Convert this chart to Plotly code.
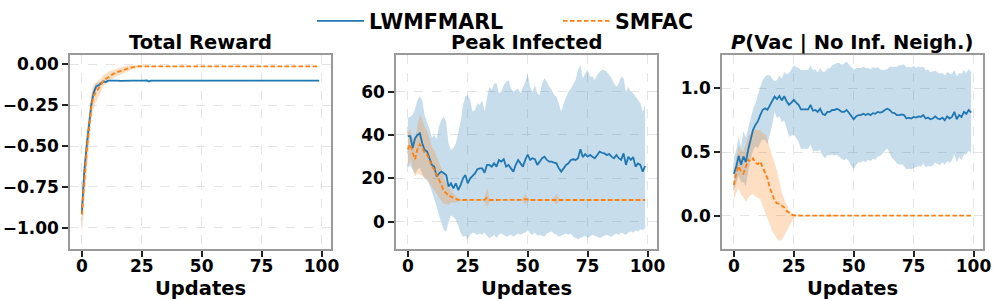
import plotly.graph_objects as go

updates = list(range(100))
series_names = ["LWMFMARL", "SMFAC"]
panel_titles = ["Total Reward", "Peak Infected", "<i>P</i>(Vac | No Inf. Neigh.)"]
x_label = "Updates"
x_ticks = [0, 25, 50, 75, 100]

# ---------------- Panel 1: Total Reward ----------------
reward_lw = [
    -0.910, -0.660, -0.500, -0.380, -0.240, -0.170, -0.135, -0.128, -0.115, -0.105,
    -0.108, -0.100, -0.100, -0.099, -0.100, -0.100, -0.101, -0.100, -0.100, -0.099,
    -0.100, -0.100, -0.100, -0.101, -0.100, -0.100, -0.100, -0.099, -0.104, -0.100,
    -0.100, -0.100, -0.101, -0.100, -0.100, -0.099, -0.100, -0.100, -0.100, -0.101,
    -0.100, -0.100, -0.099, -0.100, -0.100, -0.100, -0.101, -0.100, -0.100, -0.100,
    -0.100, -0.099, -0.100, -0.100, -0.101, -0.100, -0.100, -0.100, -0.099, -0.100,
    -0.100, -0.100, -0.101, -0.100, -0.100, -0.100, -0.099, -0.100, -0.100, -0.100,
    -0.101, -0.100, -0.100, -0.099, -0.100, -0.100, -0.100, -0.101, -0.100, -0.100,
    -0.100, -0.099, -0.100, -0.100, -0.100, -0.101, -0.100, -0.099, -0.100, -0.100,
    -0.100, -0.100, -0.101, -0.100, -0.100, -0.099, -0.100, -0.100, -0.100, -0.100,
]
reward_lw_sd = [
    0.060, 0.050, 0.050, 0.040, 0.040, 0.030, 0.020, 0.015, 0.010, 0.008,
    0.008, 0.005, 0.004, 0.003, 0.003, 0.003, 0.003, 0.003, 0.003, 0.003,
    0.003, 0.003, 0.003, 0.003, 0.003, 0.003, 0.004, 0.006, 0.012, 0.005,
    0.003, 0.003, 0.003, 0.003, 0.003, 0.003, 0.003, 0.003, 0.003, 0.003,
    0.003, 0.003, 0.003, 0.003, 0.003, 0.003, 0.003, 0.003, 0.003, 0.003,
    0.003, 0.003, 0.003, 0.003, 0.003, 0.003, 0.003, 0.003, 0.003, 0.003,
    0.003, 0.003, 0.003, 0.003, 0.003, 0.003, 0.003, 0.003, 0.003, 0.003,
    0.003, 0.003, 0.003, 0.003, 0.003, 0.003, 0.003, 0.003, 0.003, 0.003,
    0.003, 0.003, 0.003, 0.003, 0.003, 0.003, 0.003, 0.003, 0.003, 0.003,
    0.003, 0.003, 0.003, 0.003, 0.003, 0.003, 0.003, 0.003, 0.003, 0.003,
]
reward_sm = [
    -0.920, -0.700, -0.530, -0.400, -0.250, -0.190, -0.170, -0.150, -0.125, -0.100,
    -0.090, -0.075, -0.068, -0.060, -0.052, -0.046, -0.041, -0.035, -0.030, -0.026,
    -0.022, -0.018, -0.015, -0.013, -0.012, -0.012, -0.011, -0.012, -0.012, -0.011,
    -0.012, -0.012, -0.011, -0.012, -0.012, -0.012, -0.011, -0.012, -0.012, -0.012,
    -0.011, -0.012, -0.012, -0.012, -0.011, -0.012, -0.012, -0.012, -0.011, -0.012,
    -0.012, -0.012, -0.011, -0.012, -0.012, -0.012, -0.011, -0.012, -0.012, -0.012,
    -0.011, -0.012, -0.012, -0.012, -0.011, -0.012, -0.012, -0.012, -0.011, -0.012,
    -0.012, -0.012, -0.011, -0.012, -0.012, -0.012, -0.011, -0.012, -0.012, -0.012,
    -0.011, -0.012, -0.012, -0.012, -0.011, -0.012, -0.012, -0.012, -0.011, -0.012,
    -0.012, -0.012, -0.011, -0.012, -0.012, -0.012, -0.011, -0.012, -0.012, -0.012,
]
reward_sm_sd = [
    0.140, 0.140, 0.130, 0.100, 0.080, 0.070, 0.060, 0.050, 0.040, 0.035,
    0.030, 0.030, 0.028, 0.027, 0.025, 0.025, 0.024, 0.022, 0.020, 0.018,
    0.016, 0.013, 0.010, 0.008, 0.006, 0.004, 0.002, 0.002, 0.002, 0.002,
    0.002, 0.002, 0.002, 0.002, 0.002, 0.002, 0.002, 0.002, 0.002, 0.002,
    0.002, 0.002, 0.002, 0.002, 0.002, 0.002, 0.002, 0.002, 0.002, 0.002,
    0.002, 0.002, 0.002, 0.002, 0.002, 0.002, 0.002, 0.002, 0.002, 0.002,
    0.002, 0.002, 0.002, 0.002, 0.002, 0.002, 0.002, 0.002, 0.002, 0.002,
    0.002, 0.002, 0.002, 0.002, 0.002, 0.002, 0.002, 0.002, 0.002, 0.002,
    0.002, 0.002, 0.002, 0.002, 0.002, 0.002, 0.002, 0.002, 0.002, 0.002,
    0.002, 0.002, 0.002, 0.002, 0.002, 0.002, 0.002, 0.002, 0.002, 0.002,
]

# ---------------- Panel 2: Peak Infected ----------------
peak_lw = [
    39.5, 39.5, 34.0, 38.5, 40.0, 40.8, 36.2, 33.1, 32.4, 29.3,
    26.2, 25.4, 20.8, 22.3, 23.1, 22.3, 21.5, 16.2, 17.7, 15.4,
    17.7, 14.6, 16.9, 20.0, 21.5, 17.7, 20.0, 21.1, 22.3, 24.2,
    24.6, 24.6, 22.6, 26.2, 26.2, 25.4, 26.9, 25.4, 28.5, 27.7,
    28.8, 25.4, 26.2, 24.6, 23.1, 26.2, 28.5, 26.9, 25.4, 28.5,
    31.0, 28.5, 29.3, 28.8, 26.2, 27.7, 29.3, 30.0, 28.5, 27.7,
    27.7, 27.2, 26.9, 24.6, 23.1, 24.6, 26.2, 26.9, 28.5, 28.8,
    28.5, 29.3, 33.4, 29.8, 31.2, 30.0, 30.8, 30.0, 29.3, 30.8,
    32.3, 31.8, 31.5, 30.8, 31.2, 30.0, 29.3, 30.8, 29.3, 28.5,
    31.5, 26.2, 30.0, 28.5, 29.8, 25.4, 26.9, 26.2, 23.1, 25.7,
]
peak_lw_hi = [
    47.7, 48.5, 49.2, 52.0, 56.1, 57.7, 56.0, 49.0, 46.0, 43.0,
    39.0, 40.0, 38.0, 44.0, 47.0, 48.5, 46.0, 36.0, 33.0, 34.0,
    36.0, 40.8, 46.0, 53.8, 57.7, 58.5, 56.0, 50.8, 51.5, 54.6,
    53.8, 56.0, 50.8, 56.9, 62.3, 60.8, 63.8, 63.8, 59.2, 60.0,
    63.0, 64.6, 65.4, 61.5, 60.0, 60.8, 61.5, 59.2, 61.5, 64.6,
    68.0, 62.3, 60.0, 63.0, 59.2, 58.5, 63.8, 66.2, 64.6, 62.3,
    60.8, 58.5, 57.7, 53.8, 50.8, 54.6, 57.7, 60.0, 61.5, 63.8,
    65.4, 70.0, 72.3, 66.2, 68.5, 70.0, 67.0, 67.0, 65.4, 67.7,
    69.2, 70.0, 70.0, 69.2, 67.7, 66.2, 63.8, 62.3, 63.8, 67.0,
    66.2, 60.0, 62.3, 60.0, 59.2, 57.7, 56.2, 54.6, 50.8, 53.8,
]
peak_lw_lo = [
    25.0, 26.0, 24.0, 22.0, 24.0, 25.0, 22.0, 20.0, 19.0, 17.0,
    14.0, 11.0, 7.0, 3.0, -1.0, -4.0, -4.5, 0.0, 3.0, 2.0,
    1.0, -2.0, -5.0, -7.0, -6.5, -8.0, -6.0, -5.0, -5.5, -6.0,
    -5.5, -6.0, -5.0, -6.5, -7.5, -7.0, -6.0, -7.5, -6.0, -5.5,
    -6.0, -7.0, -6.5, -6.0, -7.0, -6.0, -5.5, -6.0, -5.5, -5.0,
    -4.0, -5.5, -6.0, -5.0, -6.5, -6.0, -6.5, -7.0, -5.5, -5.0,
    -4.5, -5.5, -6.0, -7.0, -6.5, -6.0, -5.5, -6.0, -5.5, -7.0,
    -7.5, -8.0, -7.5, -7.0, -6.5, -7.5, -7.0, -6.0, -6.5, -7.0,
    -7.5, -7.0, -6.5, -6.0, -6.5, -7.0, -6.0, -5.5, -6.0, -5.0,
    -5.5, -6.0, -5.0, -4.5, -5.0, -4.0, -4.5, -3.5, -4.0, -3.0,
]
peak_sm = [
    33.4, 35.7, 31.8, 28.8, 33.4, 35.7, 34.2, 31.8, 31.0, 27.9,
    25.6, 24.0, 21.7, 19.4, 17.1, 14.0, 13.2, 11.7, 11.7, 10.9,
    10.4, 10.1, 10.0, 10.0, 10.0, 10.0, 10.0, 10.0, 10.0, 10.0,
    10.0, 10.0, 10.1, 11.0, 10.1, 10.0, 10.0, 10.0, 10.0, 10.0,
    10.0, 10.0, 10.0, 10.0, 10.0, 10.0, 10.0, 10.0, 10.1, 10.4,
    10.1, 10.0, 10.0, 10.0, 10.0, 10.0, 10.0, 10.0, 10.0, 10.0,
    10.0, 10.1, 10.3, 10.1, 10.0, 10.0, 10.0, 10.0, 10.0, 10.0,
    10.0, 10.0, 10.0, 10.0, 10.0, 10.0, 10.0, 10.0, 10.0, 10.0,
    10.0, 10.0, 10.0, 10.0, 10.0, 10.0, 10.0, 10.0, 10.0, 10.0,
    10.0, 10.0, 10.0, 10.0, 10.0, 10.0, 10.0, 10.0, 10.0, 10.0,
]
peak_sm_sd = [
    8.0, 7.0, 7.0, 8.0, 11.0, 14.0, 13.0, 12.0, 11.0, 10.0,
    9.0, 9.0, 8.5, 8.0, 7.5, 6.0, 5.0, 4.0, 3.0, 2.0,
    1.5, 0.8, 0.4, 0.2, 0.2, 0.2, 0.2, 0.2, 0.2, 0.2,
    0.2, 0.2, 1.0, 4.5, 1.0, 0.2, 0.2, 0.2, 0.2, 0.2,
    0.2, 0.2, 0.2, 0.2, 0.2, 0.2, 0.2, 0.2, 0.8, 2.5,
    0.8, 0.2, 0.2, 0.2, 0.2, 0.2, 0.2, 0.2, 0.2, 0.2,
    0.2, 0.8, 2.5, 0.8, 0.2, 0.2, 0.2, 0.2, 0.2, 0.2,
    0.2, 0.2, 0.2, 0.2, 0.2, 0.2, 0.2, 0.2, 0.2, 0.2,
    0.2, 0.2, 0.2, 0.2, 0.2, 0.2, 0.2, 0.2, 0.2, 0.2,
    0.2, 0.2, 0.2, 0.2, 0.2, 0.2, 0.2, 0.2, 0.2, 0.2,
]

# ---------------- Panel 3: P(Vac | No Inf. Neigh.) ----------------
vac_lw = [
    0.328, 0.385, 0.470, 0.400, 0.465, 0.420, 0.520, 0.605, 0.674, 0.713,
    0.740, 0.790, 0.830, 0.843, 0.832, 0.865, 0.895, 0.935, 0.915, 0.940,
    0.905, 0.938, 0.898, 0.870, 0.888, 0.910, 0.888, 0.870, 0.835, 0.835,
    0.835, 0.835, 0.870, 0.824, 0.830, 0.815, 0.840, 0.800, 0.790, 0.815,
    0.815, 0.830, 0.830, 0.840, 0.830, 0.815, 0.815, 0.830, 0.808, 0.778,
    0.757, 0.780, 0.790, 0.790, 0.800, 0.790, 0.800, 0.790, 0.805, 0.800,
    0.815, 0.810, 0.815, 0.830, 0.840, 0.830, 0.810, 0.805, 0.790, 0.790,
    0.795, 0.790, 0.763, 0.770, 0.763, 0.775, 0.770, 0.780, 0.775, 0.790,
    0.763, 0.770, 0.757, 0.763, 0.780, 0.763, 0.757, 0.770, 0.750, 0.780,
    0.763, 0.775, 0.815, 0.757, 0.790, 0.775, 0.815, 0.800, 0.830, 0.810,
]
vac_lw_sd = [
    0.13, 0.13, 0.15, 0.14, 0.20, 0.19, 0.17, 0.17, 0.16, 0.17,
    0.21, 0.22, 0.23, 0.25, 0.27, 0.24, 0.18, 0.12, 0.15, 0.16,
    0.17, 0.19, 0.21, 0.25, 0.26, 0.27, 0.28, 0.29, 0.31, 0.31,
    0.31, 0.31, 0.31, 0.32, 0.32, 0.31, 0.32, 0.33, 0.34, 0.34,
    0.34, 0.35, 0.36, 0.36, 0.37, 0.37, 0.38, 0.38, 0.38, 0.39,
    0.39, 0.38, 0.37, 0.37, 0.37, 0.37, 0.36, 0.36, 0.36, 0.36,
    0.35, 0.34, 0.33, 0.32, 0.31, 0.34, 0.36, 0.37, 0.38, 0.39,
    0.39, 0.40, 0.40, 0.40, 0.40, 0.40, 0.39, 0.39, 0.39, 0.38,
    0.38, 0.38, 0.37, 0.37, 0.36, 0.36, 0.36, 0.35, 0.35, 0.35,
    0.35, 0.34, 0.33, 0.34, 0.33, 0.34, 0.33, 0.32, 0.32, 0.32,
]
vac_sm = [
    0.241, 0.330, 0.390, 0.345, 0.330, 0.390, 0.440, 0.425, 0.450, 0.415,
    0.405, 0.425, 0.380, 0.330, 0.295, 0.220, 0.170, 0.118, 0.098, 0.092,
    0.078, 0.065, 0.038, 0.023, 0.009, 0.003, 0.000, 0.000, 0.000, 0.000,
    0.000, 0.000, 0.000, 0.000, 0.000, 0.000, 0.000, 0.000, 0.000, 0.000,
    0.003, 0.000, 0.000, 0.000, 0.000, 0.000, 0.000, 0.000, 0.000, 0.000,
    0.000, 0.000, 0.000, 0.000, 0.000, 0.000, 0.000, 0.000, 0.000, 0.000,
    0.000, 0.000, 0.000, 0.000, 0.000, 0.000, 0.000, 0.000, 0.000, 0.000,
    0.000, 0.000, 0.000, 0.000, 0.000, 0.000, 0.000, 0.000, 0.000, 0.000,
    0.000, 0.000, 0.000, 0.000, 0.000, 0.000, 0.000, 0.000, 0.000, 0.000,
    0.000, 0.000, 0.000, 0.000, 0.000, 0.000, 0.000, 0.000, 0.000, 0.000,
]
vac_sm_hi = [
    0.34, 0.44, 0.55, 0.52, 0.50, 0.56, 0.62, 0.65, 0.68, 0.68,
    0.67, 0.67, 0.65, 0.64, 0.60, 0.53, 0.47, 0.41, 0.35, 0.27,
    0.18, 0.13, 0.08, 0.045, 0.022, 0.010, 0.004, 0.002, 0.002, 0.002,
    0.002, 0.002, 0.002, 0.002, 0.002, 0.002, 0.002, 0.002, 0.002, 0.008,
    0.020, 0.008, 0.002, 0.002, 0.002, 0.002, 0.002, 0.002, 0.002, 0.002,
    0.002, 0.002, 0.002, 0.002, 0.002, 0.002, 0.002, 0.002, 0.002, 0.002,
    0.002, 0.002, 0.002, 0.002, 0.002, 0.002, 0.002, 0.002, 0.002, 0.002,
    0.002, 0.002, 0.002, 0.002, 0.002, 0.002, 0.002, 0.002, 0.002, 0.002,
    0.002, 0.002, 0.002, 0.002, 0.002, 0.002, 0.002, 0.002, 0.002, 0.002,
    0.002, 0.002, 0.002, 0.002, 0.002, 0.002, 0.002, 0.002, 0.002, 0.002,
]
vac_sm_lo = [
    0.13, 0.18, 0.22, 0.17, 0.14, 0.11, 0.14, 0.16, 0.17, 0.15,
    0.14, 0.13, 0.09, 0.03, -0.02, -0.07, -0.12, -0.15, -0.18, -0.20,
    -0.19, -0.16, -0.12, -0.08, -0.05, -0.02, -0.005, -0.002, -0.002, -0.002,
    -0.002, -0.002, -0.002, -0.002, -0.002, -0.002, -0.002, -0.002, -0.002, -0.006,
    -0.015, -0.006, -0.002, -0.002, -0.002, -0.002, -0.002, -0.002, -0.002, -0.002,
    -0.002, -0.002, -0.002, -0.002, -0.002, -0.002, -0.002, -0.002, -0.002, -0.002,
    -0.002, -0.002, -0.002, -0.002, -0.002, -0.002, -0.002, -0.002, -0.002, -0.002,
    -0.002, -0.002, -0.002, -0.002, -0.002, -0.002, -0.002, -0.002, -0.002, -0.002,
    -0.002, -0.002, -0.002, -0.002, -0.002, -0.002, -0.002, -0.002, -0.002, -0.002,
    -0.002, -0.002, -0.002, -0.002, -0.002, -0.002, -0.002, -0.002, -0.002, -0.002,
]

# ---------------- styling ----------------
BLUE = "#1f77b4"
ORANGE = "#ff7f0e"
BLUE_FILL = "rgba(31,119,180,0.25)"
ORANGE_FILL = "rgba(255,127,14,0.25)"
FONT = "DejaVu Sans"
W, H = 996, 301
M_L, M_R, M_T, M_B = 70, 13, 55, 52
PLOT_W = W - M_L - M_R
PLOT_H = H - M_T - M_B

# panel pixel extents (left, right) inside the figure
panel_px = [(70, 331), (396, 657), (722, 983)]
x_domains = [[(a - M_L) / PLOT_W, (b - M_L) / PLOT_W] for a, b in panel_px]
x_domains[-1][1] = 1.0
y_ranges = [[-1.13, 0.057], [-12.6, 76.9], [-0.262, 1.262]]
y_ticks = [[-1.0, -0.75, -0.5, -0.25, 0.0], [0, 20, 40, 60], [0.0, 0.5, 1.0]]
y_formats = [".2f", "d", ".1f"]


def sd_band(mean, sd):
    return [m - s for m, s in zip(mean, sd)], [m + s for m, s in zip(mean, sd)]


panels = [
    dict(lw=reward_lw, lw_band=sd_band(reward_lw, reward_lw_sd),
         sm=reward_sm, sm_band=sd_band(reward_sm, reward_sm_sd)),
    dict(lw=peak_lw, lw_band=(peak_lw_lo, peak_lw_hi),
         sm=peak_sm, sm_band=sd_band(peak_sm, peak_sm_sd)),
    dict(lw=vac_lw, lw_band=sd_band(vac_lw, vac_lw_sd),
         sm=vac_sm, sm_band=(vac_sm_lo, vac_sm_hi)),
]

fig = go.Figure()
DASH = "4.5px,2.5px"

for i, p in enumerate(panels):
    xa = "x" if i == 0 else f"x{i+1}"
    ya = "y" if i == 0 else f"y{i+1}"
    for key, fill in [("lw", BLUE_FILL), ("sm", ORANGE_FILL)]:
        lo, hi = p[key + "_band"]
        fig.add_trace(go.Scatter(
            x=updates + updates[::-1], y=hi + lo[::-1],
            fill="toself", fillcolor=fill, line=dict(width=0),
            mode="lines", showlegend=False, hoverinfo="skip",
            xaxis=xa, yaxis=ya,
        ))
    for key, color, name, dash in [
        ("lw", BLUE, series_names[0], "solid"),
        ("sm", ORANGE, series_names[1], DASH),
    ]:
        fig.add_trace(go.Scatter(
            x=updates, y=p[key], mode="lines", name=name,
            line=dict(color=color, width=1.8, dash=dash),
            showlegend=(i == 0), legendgroup=name,
            xaxis=xa, yaxis=ya,
        ))

axis_common = dict(
    showline=True, linecolor="#9a9a9a", linewidth=1.5, mirror=True,
    ticks="outside", ticklen=6, tickwidth=1.5, tickcolor="#222222",
    showgrid=True, gridcolor="#e4e4e4", gridwidth=0.8, griddash="dash",
    zeroline=False, tickfont=dict(size=17), automargin=False,
)

layout = dict(
    width=W, height=H,
    margin=dict(l=M_L, r=M_R, t=M_T, b=M_B, autoexpand=False),
    paper_bgcolor="white", plot_bgcolor="white",
    font=dict(family=FONT, size=17, color="black", weight="bold"),
    showlegend=True,
    legend=dict(orientation="h", x=312 / W, xanchor="left", xref="container",
                y=1 - 21 / H, yanchor="middle", yref="container",
                itemwidth=47, entrywidth=184, entrywidthmode="pixels",
                font=dict(size=20.6), bgcolor="rgba(0,0,0,0)"),
)
annotations = []
for i in range(3):
    sx = "" if i == 0 else str(i + 1)
    xc = (x_domains[i][0] + x_domains[i][1]) / 2
    layout["xaxis" + sx] = dict(
        axis_common, domain=x_domains[i], anchor="y" + sx,
        range=[-4.95, 103.95], tickvals=x_ticks, ticklabelstandoff=-5,
    )
    layout["yaxis" + sx] = dict(
        axis_common, domain=[0, 1], anchor="x" + sx,
        range=y_ranges[i], tickvals=y_ticks[i], tickformat=y_formats[i],
    )
    annotations.append(dict(
        text=panel_titles[i], xref="paper", yref="paper",
        x=xc, y=1 + (M_T - 42) / PLOT_H,
        xanchor="center", yanchor="middle", showarrow=False,
        font=dict(size=19.5, family=FONT, color="black", weight="bold"),
    ))
    annotations.append(dict(
        text=x_label, xref="paper", yref="paper",
        x=xc, y=-(288 - (H - M_B)) / PLOT_H,
        xanchor="center", yanchor="middle", showarrow=False,
        font=dict(size=19.5, family=FONT, color="black", weight="bold"),
    ))
layout["annotations"] = annotations
fig.update_layout(**layout)

fig.write_html(
    "out.html",
    config={"displayModeBar": False},
    post_script="document.body.style.margin='0px';document.body.style.padding='0px';",
)
